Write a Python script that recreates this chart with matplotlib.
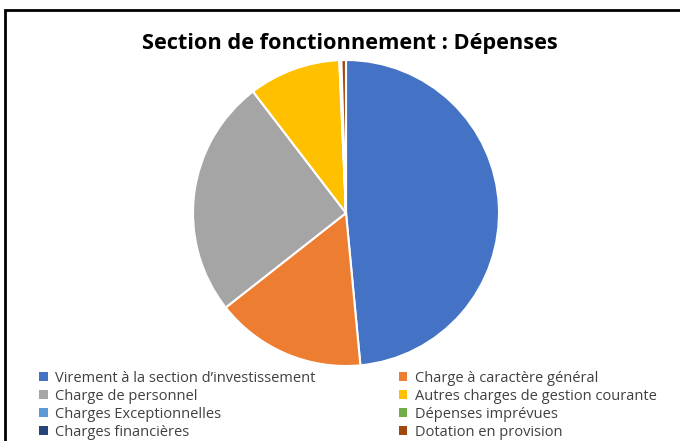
import matplotlib.pyplot as plt
from matplotlib.patches import Rectangle, Patch

# Données (en %)
categories = [
    "Virement à la section d’investissement",
    "Charge à caractère général",
    "Charge de personnel",
    "Autres charges de gestion courante",
    "Charges Exceptionnelles",
    "Dépenses imprévues",
    "Charges financières",
    "Dotation en provision",
]
valeurs = [48.5, 15.9, 25.2, 9.7, 0.1, 0.02, 0.1, 0.48]
couleurs = ["#4472C4", "#ED7D31", "#A5A5A5", "#FFC000",
            "#5B9BD5", "#70AD47", "#264478", "#9E480E"]

plt.rcParams['font.family'] = ['Open Sans', 'DejaVu Sans']

fig = plt.figure(figsize=(6.8, 4.41), dpi=100)

# cadre noir (coupé à droite et en bas)
cadre = Rectangle((5 / 680, -0.1), 2.0, (441 - 10) / 441 + 0.1,
                  transform=fig.transFigure, fill=False,
                  edgecolor="black", linewidth=2)
fig.patches.append(cadre)

# camembert
ax = fig.add_axes([(346 - 153) / 680, (441 - 366) / 441, 306 / 680, 306 / 441])
ax.pie(valeurs, colors=couleurs, startangle=90, counterclock=False,
       wedgeprops=dict(edgecolor="white", linewidth=1.5))
ax.set_xlim(-1.0, 1.0)
ax.set_ylim(-1.0, 1.0)
ax.set_aspect("equal")

fig.text(350 / 680, 1 - 44 / 441, "Section de fonctionnement : Dépenses",
         ha="center", va="center", fontsize=15.7, fontweight="bold")

# légende : remplie ligne par ligne comme l'original
ordre = [0, 2, 4, 6, 1, 3, 5, 7]
handles = [Patch(facecolor=couleurs[i], edgecolor="none") for i in ordre]
labels = [categories[i] for i in ordre]
fig.legend(handles, labels, ncol=2, loc="upper left",
           bbox_to_anchor=(39 / 680, 1 - 371 / 441), frameon=False,
           fontsize=10.5, handlelength=0.6, handleheight=0.6,
           handletextpad=0.5, columnspacing=5.7, labelspacing=0.2,
           labelcolor="#404040", borderaxespad=0, borderpad=0)

fig.savefig("out.png", dpi=100)
